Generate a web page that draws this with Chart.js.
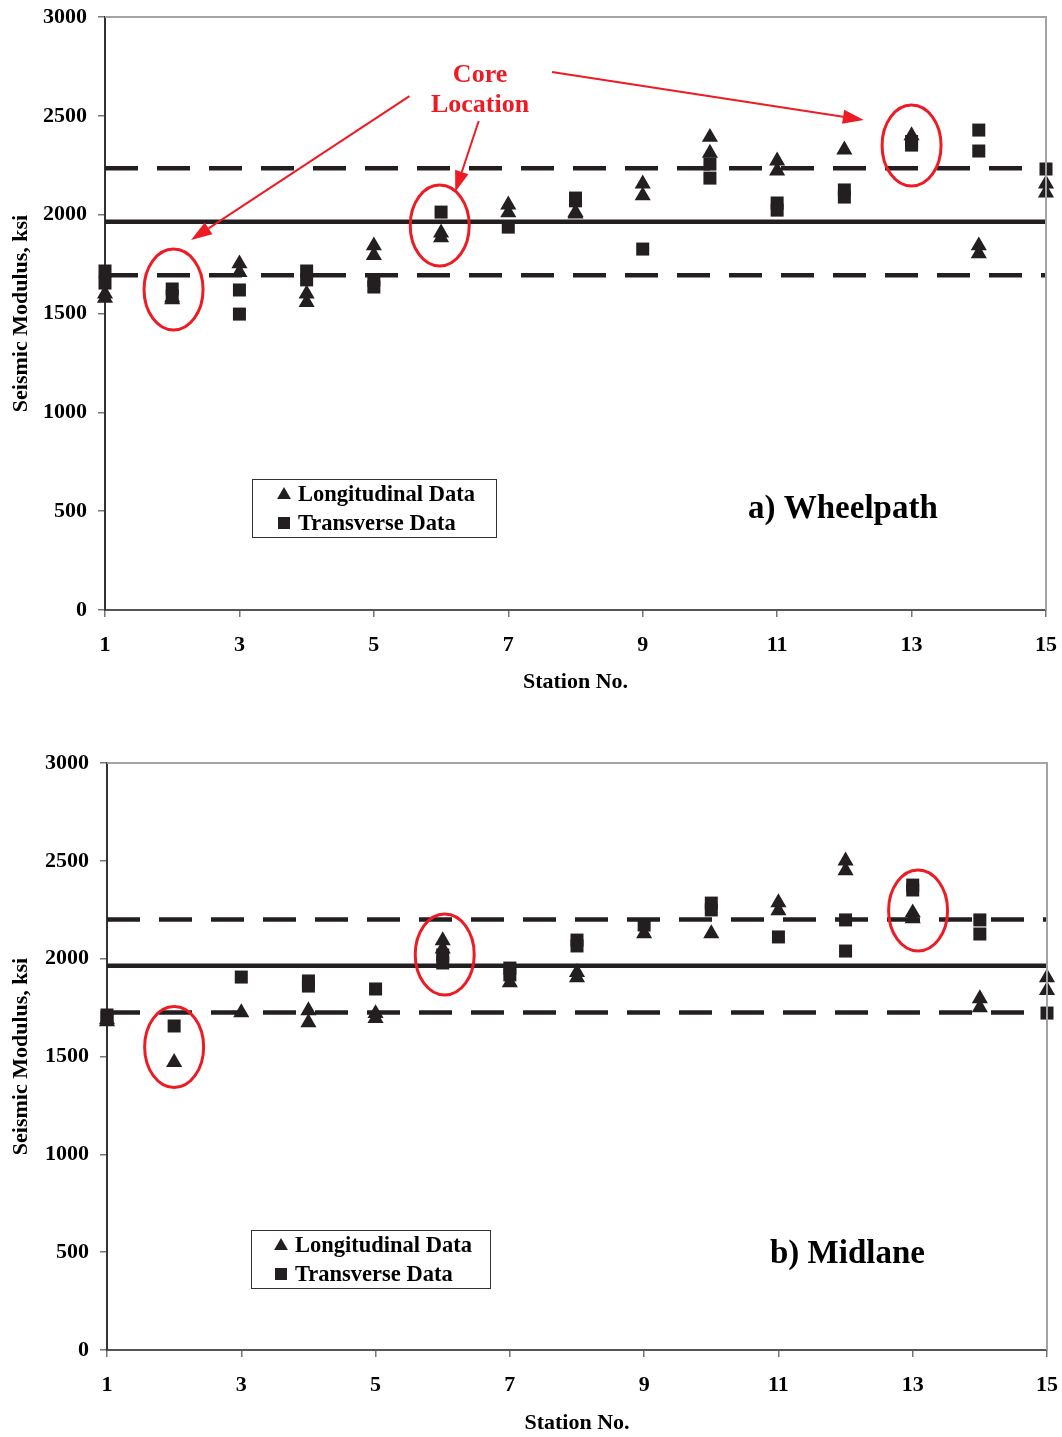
<!DOCTYPE html>
<html><head><meta charset="utf-8">
<script src="https://cdn.jsdelivr.net/npm/chart.js@4.4.1/dist/chart.umd.min.js"></script>
<style>
html,body{margin:0;padding:0;background:#fff;}
#wrap{position:relative;width:1062px;height:1437px;overflow:hidden;}
.box{position:absolute;left:0;width:1062px;}
canvas{display:block;}
</style></head><body>
<div id="wrap">
<div class="box" style="top:0;height:720px"><canvas id="c1" width="1062" height="720"></canvas></div>
<div class="box" style="top:720px;height:717px"><canvas id="c2" width="1062" height="717"></canvas></div>
</div>
<script>
const FONT = '"Liberation Serif", "Times New Roman", serif';
const INK = '#231f20';
const RED = '#ed1c24';

const stations = [1,2,3,4,5,6,7,8,9,10,11,12,13,14,15];
const xTickValues = [1,3,5,7,9,11,13,15];
const yTickValues = [0,500,1000,1500,2000,2500,3000];

// a) Wheelpath — readings per station (ksi)
const wheelLongitudinal = [[1600,1578],[1580,1570],[1752,1708],[1600,1556],[1843,1794],[1908,1884],[2050,2010],[2012,2004],[2156,2096],[2392,2312],[2272,2222],[2328],[2400],[1843,1803],[2156,2110]];
const wheelTransverse = [[1715,1654],[1624,1590],[1619,1497],[1715,1670],[1669,1634],[2013],[1937],[2084,2070],[1826],[2256,2185],[2059,2023],[2125,2089],[2370,2352],[2428,2322],[2231]];
const wheelMean = 1964, wheelUpper = 2235, wheelLower = 1694;

// b) Midlane
const midLongitudinal = [[1688,1678],[1470],[1725],[1735,1673],[1720,1695],[2092,2050],[1878],[1930,1903],[2128],[2128],[2287,2246],[2500,2450],[2235,2205],[1796,1750],[1903,1838]];
const midTransverse = [[1712,1700],[1656],[1906],[1886,1860],[1845],[2019,1978],[1952,1917],[2095,2065],[2172],[2284,2249],[2111],[2198,2039],[2376,2351],[2198,2126],[1722]];
const midMean = 1964, midUpper = 2200, midLower = 1725;

// core locations [station, ksi] (centre of circled region)
const wheelCores = [[2.02,1621],[5.98,1945],[13.0,2350]];
const midCores = [[2.0,1549],[6.03,2021],[13.08,2246]];
// "Core Location" label & arrows (data coordinates of the upper panel)
const coreLabel = [[6.58,2707,'Core'],[6.58,2555,'Location']];
const coreArrows = [[[5.53,2600],[2.28,1872]],[[6.56,2474],[6.21,2115]],[[7.65,2722],[12.29,2479]]];

const legendLabels = ['Longitudinal Data','Transverse Data'];

function toPoints(arr){
  const out=[];
  arr.forEach((vals,i)=>vals.forEach(v=>out.push({x:stations[i],y:v})));
  return out;
}
function hline(v){
  return [{x:stations[0],y:v},{x:stations[stations.length-1],y:v}];
}

function drawMarker(ctx, style, x, y, r){
  ctx.beginPath();
  if(style==='triangle'){
    ctx.moveTo(x, y - r);
    ctx.lineTo(x + r*Math.sin(2*Math.PI/3), y - r*Math.cos(2*Math.PI/3));
    ctx.lineTo(x + r*Math.sin(4*Math.PI/3), y - r*Math.cos(4*Math.PI/3));
  } else {
    const s = r*Math.SQRT1_2;
    ctx.rect(x-s, y-s, 2*s, 2*s);
  }
  ctx.closePath();
  ctx.fill();
}

const deco = {
  id:'deco',
  afterDatasetsDraw(chart, args, o){
    const ctx = chart.ctx, ca = chart.chartArea;
    const xs = chart.scales.x, ys = chart.scales.y;
    ctx.save();
    // frame top & right
    ctx.strokeStyle = '#a3a3a3'; ctx.lineWidth = 2;
    ctx.beginPath();
    ctx.moveTo(ca.left, ca.top); ctx.lineTo(ca.right, ca.top); ctx.lineTo(ca.right, ca.bottom);
    ctx.stroke();
    // legend
    const lb = o.legend;
    const bx = ca.left + lb.dx, by = ca.top + lb.dy;
    ctx.strokeStyle = '#333'; ctx.lineWidth = 1;
    ctx.strokeRect(bx+0.5, by+0.5, lb.w, lb.h);
    ctx.fillStyle = '#000';
    ctx.font = 'bold 22.5px ' + FONT;
    ctx.textBaseline = 'middle'; ctx.textAlign = 'left';
    const styles = ['triangle','rect'];
    legendLabels.forEach((t,i)=>{
      const cy = by + 15 + i*29;
      ctx.fillStyle = INK;
      drawMarker(ctx, styles[i], bx + lb.mx, cy + (i===0?1:0), i===0?8:8.5);
      ctx.fillStyle = '#000';
      ctx.fillText(t, bx + lb.tx, cy + 1);
    });
    // panel label
    ctx.font = 'bold 33px ' + FONT;
    ctx.fillText(o.panel.text, ca.left + o.panel.dx, ca.top + o.panel.dy);
    // core ellipses
    ctx.strokeStyle = RED; ctx.lineWidth = 3;
    o.cores.forEach(c=>{
      ctx.beginPath();
      ctx.ellipse(xs.getPixelForValue(c[0]), ys.getPixelForValue(c[1]), 29.5, 40.5, 0, 0, Math.PI*2);
      ctx.stroke();
    });
    if(o.arrows){
      ctx.fillStyle = RED;
      ctx.font = 'bold 26px ' + FONT;
      ctx.textAlign = 'center';
      coreLabel.forEach(l=>ctx.fillText(l[2], xs.getPixelForValue(l[0]), ys.getPixelForValue(l[1])));
      ctx.lineWidth = 2;
      coreArrows.forEach(a=>{
        const x1 = xs.getPixelForValue(a[0][0]), y1 = ys.getPixelForValue(a[0][1]);
        const x2 = xs.getPixelForValue(a[1][0]), y2 = ys.getPixelForValue(a[1][1]);
        const ang = Math.atan2(y2-y1, x2-x1), L = 21, W = 7;
        const bxp = x2 - L*Math.cos(ang), byp = y2 - L*Math.sin(ang);
        ctx.beginPath(); ctx.moveTo(x1,y1); ctx.lineTo(bxp,byp); ctx.stroke();
        ctx.beginPath();
        ctx.moveTo(x2,y2);
        ctx.lineTo(bxp + W*Math.sin(ang), byp - W*Math.cos(ang));
        ctx.lineTo(bxp - W*Math.sin(ang), byp + W*Math.cos(ang));
        ctx.closePath(); ctx.fill();
      });
    }
    ctx.restore();
  }
};

function zeroPad(s){ s.paddingLeft = 0; s.paddingRight = 0; s.paddingTop = 0; s.paddingBottom = 0; }

function build(id, p){
  const refLine = (v, dash) => ({type:'line', data:hline(v), borderColor:INK, borderWidth:4.5, borderDash:dash, pointRadius:0, fill:false, order:3});
  return new Chart(document.getElementById(id), {
    type:'scatter',
    data:{datasets:[
      refLine(p.mean, []),
      refLine(p.upper, [33,19]),
      refLine(p.lower, [33,19]),
      {label:legendLabels[0], data:toPoints(p.lon), pointStyle:'triangle', pointRadius:9.3, backgroundColor:INK, borderColor:INK, borderWidth:0, order:1, clip:false},
      {label:legendLabels[1], data:toPoints(p.tra), pointStyle:'rect', pointRadius:9.2, backgroundColor:INK, borderColor:INK, borderWidth:0, order:2, clip:false}
    ]},
    options:{
      responsive:false, animation:false, devicePixelRatio:1,
      layout:{padding:{top:p.padTop, right:p.padRight, left:0, bottom:0}},
      plugins:{legend:{display:false}, tooltip:{enabled:false},
        deco:{legend:p.legend, panel:p.panel, cores:p.cores, arrows:p.arrows}},
      scales:{
        x:{type:'linear', min:stations[0], max:stations[stations.length-1],
          afterFit:s=>{s.height = p.xAxisH; zeroPad(s);},
          afterBuildTicks:s=>{s.ticks = xTickValues.map(v=>({value:v}));},
          ticks:{color:'#000', padding:15, maxRotation:0, autoSkip:false, font:{family:FONT, size:22, weight:'bold'}, callback:v=>String(v)},
          grid:{drawOnChartArea:false, drawTicks:true, tickLength:7, color:'#777', lineWidth:1.5},
          border:{display:true, color:'#555', width:2},
          title:{display:true, text:'Station No.', color:'#000', font:{family:FONT, size:22, weight:'bold'}, padding:{top:0, bottom:p.xTitlePad}}
        },
        y:{min:0, max:3000,
          afterFit:s=>{s.width = p.yAxisW; zeroPad(s);},
          afterBuildTicks:s=>{s.ticks = yTickValues.map(v=>({value:v}));},
          ticks:{color:'#000', padding:11, font:{family:FONT, size:22, weight:'bold'}, callback:v=>String(v)},
          grid:{drawOnChartArea:false, drawTicks:true, tickLength:7, color:'#777', lineWidth:1.5},
          border:{display:true, color:'#333', width:2},
          title:{display:true, text:'Seismic Modulus, ksi', color:'#000', font:{family:FONT, size:22, weight:'bold'}, padding:{top:8, bottom:0}}
        }
      }
    },
    plugins:[deco]
  });
}

build('c1', {lon:wheelLongitudinal, tra:wheelTransverse, mean:wheelMean, upper:wheelUpper, lower:wheelLower,
  padTop:17, padRight:16, xAxisH:110, yAxisW:105, xTitlePad:24,
  legend:{dx:147, dy:462, w:244, h:58, mx:32, tx:46},
  panel:{text:'a) Wheelpath', dx:643, dy:492},
  cores:wheelCores, arrows:true});

build('c2', {lon:midLongitudinal, tra:midTransverse, mean:midMean, upper:midUpper, lower:midLower,
  padTop:43, padRight:15, xAxisH:87, yAxisW:107, xTitlePad:0,
  legend:{dx:144, dy:467, w:239, h:58, mx:30, tx:44},
  panel:{text:'b) Midlane', dx:663, dy:491},
  cores:midCores, arrows:false});
</script>
</body></html>
